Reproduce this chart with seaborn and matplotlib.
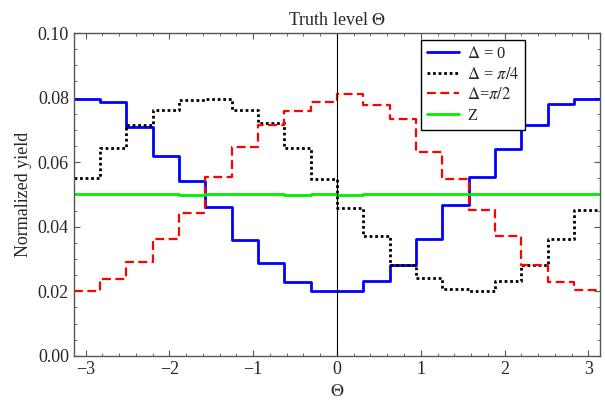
""" Truth level Theta distributions """

import numpy as np
import pandas as pd
import matplotlib.pyplot as plt
from matplotlib.ticker import MultipleLocator
import seaborn as sns

# bin edges: 20 bins over [-pi, pi]
edges = np.linspace(-np.pi, np.pi, 21)

delta_0 = [0.0795, 0.0785, 0.071, 0.062, 0.0543, 0.0462, 0.036, 0.0288, 0.023, 0.0201,
           0.0201, 0.0232, 0.0280, 0.0362, 0.0466, 0.0553, 0.0642, 0.0714, 0.0779, 0.0797]
delta_pi4 = [0.0551, 0.0645, 0.0714, 0.0763, 0.0792, 0.0796, 0.0763, 0.0722, 0.0644, 0.0548,
             0.0458, 0.0372, 0.0281, 0.0241, 0.0206, 0.0200, 0.0233, 0.0280, 0.0363, 0.0453]
delta_pi2 = [0.0201, 0.0238, 0.0290, 0.0363, 0.0442, 0.0553, 0.0648, 0.0714, 0.0760, 0.0785,
             0.0812, 0.0778, 0.0734, 0.0632, 0.0549, 0.0453, 0.0372, 0.0280, 0.0228, 0.0203]
z_flat = [0.0500, 0.0500, 0.0501, 0.0500, 0.0499, 0.0500, 0.0501, 0.0500, 0.0499, 0.0500,
          0.0499, 0.0500, 0.0500, 0.0501, 0.0500, 0.0500, 0.0501, 0.0500, 0.0500, 0.0500]

series = [
    ('$\\Delta$ = 0', delta_0, '#0000ff', '-', 2.0),
    ('$\\Delta$ = $\\pi/4$', delta_pi4, '#000000', (0, (1, 1)), 2.0),
    ('$\\Delta$=$\\pi/2$', delta_pi2, '#ff0000', (0, (4, 2)), 1.6),
    ('Z', z_flat, '#00ee00', '-', 2.0),
]

sns.set_style('ticks')
plt.rcParams['font.family'] = ['Liberation Serif', 'DejaVu Serif']
plt.rcParams['mathtext.fontset'] = 'stix'

fig, ax = plt.subplots(figsize=(6.05, 4.03), dpi=100)
fig.subplots_adjust(left=0.122, right=0.992, top=0.918, bottom=0.117)

for label, vals, color, ls, lw in series:
    df = pd.DataFrame({'theta': edges, 'y': list(vals) + [vals[-1]]})
    sns.lineplot(data=df, x='theta', y='y', ax=ax, drawstyle='steps-post',
                 color=color, linestyle=ls, linewidth=lw, label=label)

ax.axvline(0, color='black', linewidth=0.8)

ax.set_xlim(-np.pi, np.pi)
ax.set_ylim(0, 0.1)
ax.xaxis.set_major_locator(MultipleLocator(1))
ax.xaxis.set_minor_locator(MultipleLocator(0.2))
ax.yaxis.set_major_locator(MultipleLocator(0.02))
ax.yaxis.set_minor_locator(MultipleLocator(0.005))
ax.yaxis.set_major_formatter(plt.FuncFormatter(lambda v, p: f'{v:.2f}'))
ax.tick_params(which='both', direction='in', top=True, right=True, color='#555555')
ax.tick_params(which='major', length=4, labelsize=13)
ax.tick_params(which='minor', length=2)
for s in ax.spines.values():
    s.set_color('#555555')
    s.set_linewidth(1.0)

ax.set_title('Truth level $\\Theta$', fontsize=13, pad=6)
ax.set_xlabel('$\\Theta$', fontsize=13)
ax.set_ylabel('Normalized yield', fontsize=13)

leg = ax.legend(loc='upper left', bbox_to_anchor=(0.66, 0.978), borderaxespad=0,
                fontsize=12, frameon=True, fancybox=False, framealpha=1, edgecolor='black',
                handlelength=1.9, borderpad=0.35, labelspacing=0.28, handletextpad=0.5)
leg.get_frame().set_linewidth(1.0)

plt.savefig('out.png', dpi=100)
plt.close()
